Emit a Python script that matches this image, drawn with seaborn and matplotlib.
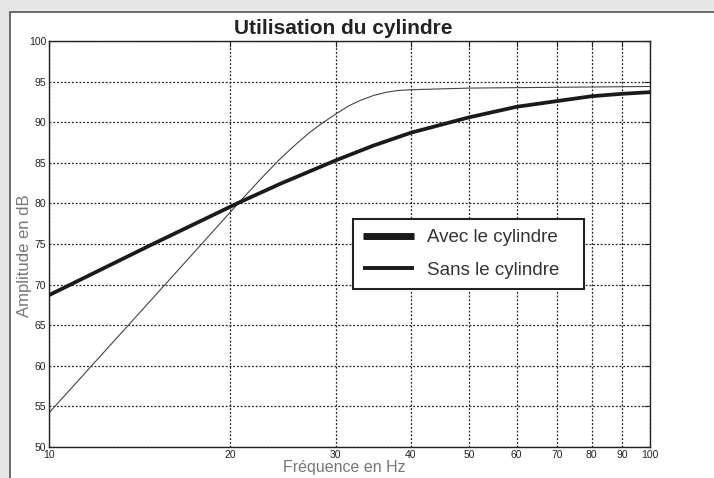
import numpy as np
import pandas as pd
import seaborn as sns
import matplotlib
matplotlib.use("Agg")
import matplotlib.pyplot as plt
from matplotlib.lines import Line2D
from matplotlib.patches import Rectangle
from matplotlib.ticker import FixedLocator, NullLocator, FixedFormatter

# valeurs
freq_avec = [10, 14.7, 20.7, 24.4, 30, 34.6, 40, 50, 60, 70, 80, 90, 100]
amp_avec = [68.7, 74.8, 80.1, 82.5, 85.3, 87.1, 88.7, 90.6, 91.9, 92.6, 93.2, 93.5, 93.7]

freq_sans = [10, 15.6, 20.7, 22.5, 24.1, 25.5, 27.1, 28.5, 30, 31.5, 33, 34.7, 36.5, 38, 40, 50, 70, 100]
amp_sans = [54.2, 70.0, 80.1, 83.0, 85.3, 87.0, 88.7, 89.9, 91.0, 92.0, 92.7, 93.3, 93.7, 93.9, 94.0,
            94.2, 94.3, 94.4]

x_ticks = [10, 20, 30, 40, 50, 60, 70, 80, 90, 100]
y_ticks = [50, 55, 60, 65, 70, 75, 80, 85, 90, 95, 100]

df_avec = pd.DataFrame({'freq': freq_avec, 'amp': amp_avec})
df_sans = pd.DataFrame({'freq': freq_sans, 'amp': amp_sans})

sns.set_theme(style="white")
plt.rcParams['font.family'] = ['Liberation Sans', 'DejaVu Sans']

fig = plt.figure(figsize=(7.14, 4.78), dpi=100, facecolor='#e6e6e6')
fig.patches.append(Rectangle((10 / 714, -0.01), 1.0, (478 - 12) / 478 + 0.01,
                             transform=fig.transFigure, facecolor='white',
                             edgecolor='#555555', linewidth=1.2, zorder=-10))
ax = fig.add_axes([49 / 714, 31 / 478, 601 / 714, 406 / 478])

sns.lineplot(data=df_sans, x='freq', y='amp', ax=ax, color='#444444', linewidth=0.8,
             estimator=None, sort=False)
sns.lineplot(data=df_avec, x='freq', y='amp', ax=ax, color='#1a1a1a', linewidth=2.7,
             estimator=None, sort=False)

ax.set_xscale('log')
ax.set_xlim(10, 100)
ax.set_ylim(50, 100)
ax.xaxis.set_major_locator(FixedLocator(x_ticks))
ax.xaxis.set_major_formatter(FixedFormatter([str(t) for t in x_ticks]))
ax.xaxis.set_minor_locator(NullLocator())
ax.yaxis.set_major_locator(FixedLocator(y_ticks))
ax.tick_params(axis='both', direction='in', length=4, width=0.8, labelsize=7.5,
               colors='#222222', top=True, right=True, pad=2)
ax.grid(True, linestyle=(0, (1.5, 1.5)), color='#222222', linewidth=0.9)
for s in ax.spines.values():
    s.set_color('#222222')
    s.set_linewidth(1.0)

ax.set_xlabel('Fréquence en Hz', fontsize=11.5, color='#777777')
ax.set_ylabel('Amplitude en dB', fontsize=12, color='#777777')
ax.xaxis.set_label_coords((344 - 49) / 601, -(460 - 447) / 406)
ax.yaxis.set_label_coords(-(49 - 32) / 601, (447 - 256) / 406)
ax.set_title('Utilisation du cylindre', fontsize=15, fontweight='bold', color='#222222',
             pad=5, x=(343.5 - 49) / 601)

handles = [Line2D([], [], color='#1a1a1a', linewidth=5, solid_capstyle='butt'),
           Line2D([], [], color='#1a1a1a', linewidth=2.8, solid_capstyle='butt')]
leg = ax.legend(handles, ['Avec le cylindre', 'Sans le cylindre'],
                loc='upper left',
                bbox_to_anchor=((353 - 49) / 601, (447 - 291) / 406, 231 / 601, 72 / 406),
                mode='expand', fontsize=13.5, frameon=True, fancybox=False, framealpha=1,
                edgecolor='#222222', handlelength=2.7, borderpad=0.55, labelspacing=0.8,
                handletextpad=0.7, borderaxespad=0)
leg.get_frame().set_linewidth(1.5)
for t in leg.get_texts():
    t.set_color('#333333')

fig.savefig('out.png', dpi=100, facecolor=fig.get_facecolor())
